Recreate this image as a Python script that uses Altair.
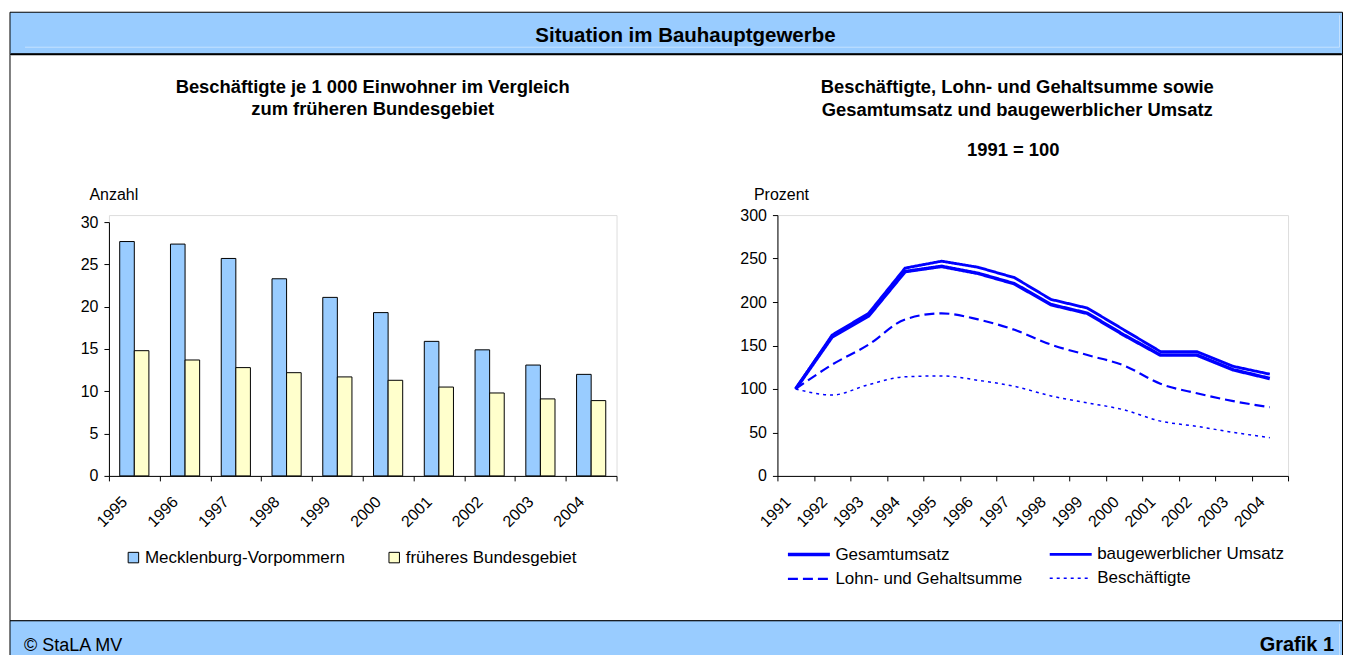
import altair as alt
import pandas as pd

FONT = "Liberation Sans"
BLUE = "#0000FF"

# ---------------- data ----------------
years_left = ["1995", "1996", "1997", "1998", "1999", "2000", "2001", "2002", "2003", "2004"]
series_left = ["Mecklenburg-Vorpommern", "früheres Bundesgebiet"]
mv_values = [27.7, 27.4, 25.7, 23.3, 21.1, 19.3, 15.9, 14.9, 13.1, 12.0]
fbg_values = [14.8, 13.7, 12.8, 12.2, 11.7, 11.3, 10.5, 9.8, 9.1, 8.9]
bar_colors = ["#99CCFF", "#FFFFCC"]
left_ticks = [0, 5, 10, 15, 20, 25, 30]

years_right = ["1991", "1992", "1993", "1994", "1995", "1996", "1997",
               "1998", "1999", "2000", "2001", "2002", "2003", "2004"]
series_right = ["Gesamtumsatz", "baugewerblicher Umsatz", "Lohn- und Gehaltsumme", "Beschäftigte"]
gesamt = [100, 160, 184, 235, 241, 233, 221, 197, 187, 162, 139, 139, 122, 112]
baugew = [100, 162, 187, 239, 247, 240, 228, 203, 193, 168, 143, 143, 126, 117]
lohn = [100, 128, 151, 180, 187, 180, 168, 151, 139, 127, 106, 95, 86, 79]
besch = [100, 93, 105, 114, 115, 110, 103, 92, 84, 76, 63, 57, 50, 44]
right_ticks = [0, 50, 100, 150, 200, 250, 300]
dash_range = [[1, 0], [1, 0], [10, 5], [3, 4]]
width_range = [3.5, 1.5, 2, 2]

bars_df = pd.DataFrame({
    "Jahr": years_left * 2,
    "Reihe": [series_left[0]] * len(years_left) + [series_left[1]] * len(years_left),
    "Wert": mv_values + fbg_values,
})
lines_df = pd.DataFrame({
    "Jahr": years_right * 4,
    "Reihe": sum([[s] * len(years_right) for s in series_right], []),
    "Wert": gesamt + baugew + lohn + besch,
})
one = pd.DataFrame({"d": [0]})

# ---------------- decorations (pixel offsets relative to left plot) ----------------
def rect(x, x2, y, y2, **kw):
    return alt.Chart(one).mark_rect(**kw).encode(
        x=alt.value(x), x2=alt.value(x2), y=alt.value(y), y2=alt.value(y2))

def rule(x, x2, y, y2, **kw):
    return alt.Chart(one).mark_rule(**kw).encode(
        x=alt.value(x), x2=alt.value(x2), y=alt.value(y), y2=alt.value(y2))

def label(txt, x, y, size, weight="normal", align="center"):
    return alt.Chart(one).mark_text(text=txt, font=FONT, fontSize=size, fontWeight=weight,
                                    align=align, baseline="alphabetic", color="black").encode(
        x=alt.value(x), y=alt.value(y))

L, R = -99, 1234.5
deco = [
    rect(L, R, -161, 406, fill="transparent", stroke="black", strokeWidth=1),
    rect(L, R, -203, -161, fill="#99CCFF", stroke="black", strokeWidth=1),
    rule(-84, R - 3, -168, -168, stroke="#C4E1FF", strokeWidth=1),
    rule(R - 3, R - 3, -200, -168, stroke="#C4E1FF", strokeWidth=1),
    rule(L + 1, R - 1, -161, -161, stroke="black", strokeWidth=2),
    rect(L, R, 406, 441, fill="#99CCFF", stroke="black", strokeWidth=1),
    rule(R - 3, R - 3, 409, 441, stroke="#C4E1FF", strokeWidth=1),
    label("Situation im Bauhauptgewerbe", 577, -173, 20.5, "bold"),
    label("© StaLA MV", -85, 436, 18, align="left"),
    label("Grafik 1", 1226, 436, 20, "bold", align="right"),
    label("Beschäftigte je 1 000 Einwohner im Vergleich", 264, -122, 18.4, "bold"),
    label("zum früheren Bundesgebiet", 264, -100, 18.4, "bold"),
]

# ---------------- left: bar chart ----------------
x_axis_common = dict(title=None, tickBand="extent", labelAngle=-45, labelAlign="right",
                     labelBaseline="middle", labelPadding=18, tickSize=5,
                     labelFont=FONT, labelFontSize=16, labelColor="black",
                     domainColor="black", tickColor="black", grid=False)

bars = alt.Chart(bars_df).mark_bar(stroke="black", strokeWidth=1).encode(
    x=alt.X("Jahr:N", sort=years_left,
            scale=alt.Scale(type="band", paddingInner=0, paddingOuter=0),
            axis=alt.Axis(labelOffset=-10, **x_axis_common)),
    xOffset=alt.XOffset("Reihe:N", sort=series_left,
                        scale=alt.Scale(domain=series_left, paddingInner=0, paddingOuter=0.74)),
    y=alt.Y("Wert:Q",
            scale=alt.Scale(domain=[0, 30], range=[261, 7], nice=False, zero=True),
            axis=alt.Axis(values=left_ticks, title="Anzahl", titleAngle=0, titleAlign="left",
                          titleBaseline="alphabetic", titleX=-20, titleY=-16,
                          titleFont=FONT, titleFontSize=16, titleFontWeight="normal",
                          titleColor="black", labelFont=FONT, labelFontSize=16,
                          labelColor="black", labelPadding=6, tickSize=5,
                          domainColor="black", tickColor="black", grid=False)),
    color=alt.Color("Reihe:N", sort=series_left,
                    scale=alt.Scale(domain=series_left, range=bar_colors),
                    legend=alt.Legend(title=None, orient="none", legendX=16, legendY=334,
                                      direction="horizontal", columnPadding=40,
                                      symbolType="square", symbolSize=110,
                                      symbolStrokeColor="black", symbolStrokeWidth=1,
                                      symbolOpacity=1, labelFont=FONT, labelFontSize=17,
                                      labelColor="black", labelOffset=3, labelLimit=400,
                                      padding=0)),
)

left = alt.layer(*deco, bars).properties(width=508, height=261)

# ---------------- right: line chart ----------------
dash_scale = alt.Scale(domain=series_right, range=dash_range)
width_scale = alt.Scale(domain=series_right, range=width_range)
line_legend = alt.Legend(title=None, orient="none", legendX=681, legendY=327, columns=2,
                         direction="horizontal", columnPadding=20, rowPadding=4,
                         symbolType="M-1.333,0H2.667", symbolSize=441, symbolStrokeColor=BLUE,
                         labelFont=FONT, labelFontSize=17, labelColor="black",
                         labelOffset=21, labelLimit=400, padding=0)

line_enc = dict(
    x=alt.X("Jahr:N", sort=years_right, bandPosition=0.5,
            scale=alt.Scale(type="band", paddingInner=0, paddingOuter=0),
            axis=alt.Axis(labelOffset=-8, **x_axis_common)),
    y=alt.Y("Wert:Q",
            scale=alt.Scale(domain=[0, 300], nice=False),
            axis=alt.Axis(values=right_ticks, title="Prozent", titleAngle=0, titleAlign="left",
                          titleBaseline="alphabetic", titleX=-24, titleY=-16,
                          titleFont=FONT, titleFontSize=16, titleFontWeight="normal",
                          titleColor="black", labelFont=FONT, labelFontSize=16,
                          labelColor="black", labelPadding=6, tickSize=5,
                          domainColor="black", tickColor="black", grid=False)),
    strokeDash=alt.StrokeDash("Reihe:N", sort=series_right, scale=dash_scale, legend=line_legend),
    strokeWidth=alt.StrokeWidth("Reihe:N", sort=series_right, scale=width_scale, legend=line_legend),
)

solid = alt.Chart(lines_df).transform_filter(
    alt.FieldOneOfPredicate(field="Reihe", oneOf=series_right[:2])
).mark_line(color=BLUE, interpolate="linear").encode(**line_enc)

smooth = alt.Chart(lines_df).transform_filter(
    alt.FieldOneOfPredicate(field="Reihe", oneOf=series_right[2:])
).mark_line(color=BLUE, interpolate="monotone").encode(**line_enc)

right_titles = [
    label("Beschäftigte, Lohn- und Gehaltsumme sowie", 240, -122, 18.4, "bold"),
    label("Gesamtumsatz und baugewerblicher Umsatz", 240, -99, 18.4, "bold"),
    label("1991 = 100", 236, -59, 18.4, "bold"),
]

right = alt.layer(*right_titles, smooth, solid).properties(width=511, height=261)

chart = alt.hconcat(left, right, spacing=161, bounds="flush").properties(
    padding={"left": 1, "top": 3, "right": 0, "bottom": 0}
).configure_view(strokeWidth=0).configure(font=FONT)

chart.save("out.html", embed_options={"renderer": "svg", "actions": False})
